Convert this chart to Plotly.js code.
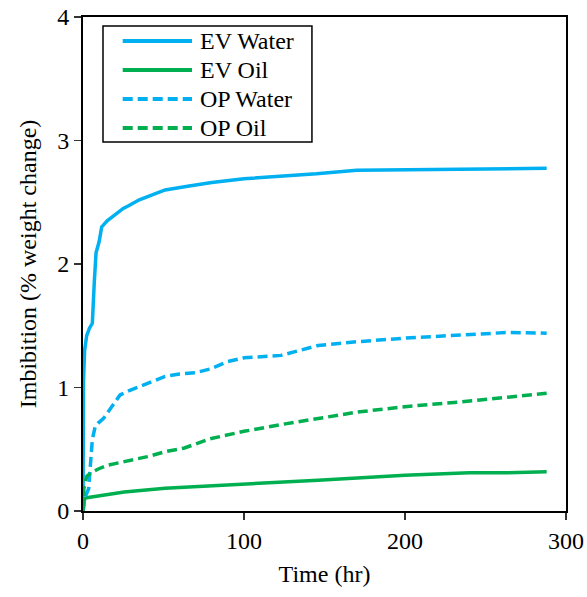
<!DOCTYPE html>
<html>
<head>
<meta charset="utf-8">
<script src="https://cdn.plot.ly/plotly-3.0.1.min.js"></script>
<style>html,body{margin:0;padding:0;background:#fff;}#chart{width:587px;height:597px;}</style>
</head>
<body>
<div id="chart"></div>
<script>
const evWaterT = [0, 0.3, 1, 2.3, 4, 5.8, 7, 8.1, 10, 11.6, 15, 20, 25, 28, 35, 45, 51, 65, 80, 100, 123, 145, 170, 200, 240, 288];
const evWaterV = [0, 1.05, 1.3, 1.42, 1.48, 1.52, 1.85, 2.09, 2.18, 2.30, 2.35, 2.40, 2.45, 2.47, 2.52, 2.57, 2.60, 2.63, 2.66, 2.69, 2.71, 2.73, 2.76, 2.765, 2.77, 2.775];

const evOilT = [0, 1, 2.3, 9.3, 25.6, 51, 100, 146, 200, 240, 263, 288];
const evOilV = [0, 0.1, 0.108, 0.12, 0.154, 0.185, 0.215, 0.25, 0.29, 0.31, 0.31, 0.317];

const opWaterT = [0, 1.2, 3.5, 5.8, 7.5, 9.3, 12.8, 18, 23, 28, 40, 51, 60, 70, 79, 90, 100, 123, 146, 170, 200, 240, 263, 288];
const opWaterV = [0, 0.11, 0.18, 0.58, 0.68, 0.71, 0.75, 0.85, 0.94, 0.97, 1.03, 1.09, 1.11, 1.12, 1.15, 1.21, 1.24, 1.26, 1.34, 1.37, 1.40, 1.43, 1.445, 1.44];

const opOilT = [0, 0.5, 2.3, 5, 9.5, 15, 25.6, 40, 51, 63, 79, 100, 123, 146, 170, 200, 240, 288];
const opOilV = [0, 0.18, 0.28, 0.31, 0.34, 0.37, 0.40, 0.44, 0.48, 0.51, 0.585, 0.645, 0.70, 0.75, 0.80, 0.845, 0.89, 0.954];

const seriesNames = ['EV Water', 'EV Oil', 'OP Water', 'OP Oil'];
const xTicks = [0, 100, 200, 300];
const yTicks = [0, 1, 2, 3, 4];

const blue = '#00B0F0', green = '#00B050';
const dashPat = '10px,5px';
const font = '"Liberation Serif", "Times New Roman", serif';
const FS = 24;
const LW = 3.5;

const lineStyles = [
  {color: blue, width: LW},
  {color: green, width: LW},
  {color: blue, width: LW, dash: dashPat},
  {color: green, width: LW, dash: dashPat}
];
const xs = [evWaterT, evOilT, opWaterT, opOilT];
const ys = [evWaterV, evOilV, opWaterV, opOilV];

const traces = seriesNames.map((n, i) => ({
  x: xs[i], y: ys[i], name: n, mode: 'lines', line: lineStyles[i], showlegend: false
}));

// Legend drawn in paper coordinates (Excel-style long line samples)
const legBox = {x0: 0.0414, x1: 0.474, y0: 0.747, y1: 0.982};
const legRowY = [0.9514, 0.8927, 0.834, 0.7753];
const legLineX = [0.0822, 0.2257];
const legTextX = 0.2375;

const shapes = [{
  type: 'rect', xref: 'paper', yref: 'paper',
  x0: legBox.x0, x1: legBox.x1, y0: legBox.y0, y1: legBox.y1,
  line: {color: '#000', width: 1.5}, fillcolor: '#fff', layer: 'above'
}];
const annotations = [];
seriesNames.forEach((n, i) => {
  shapes.push({
    type: 'line', xref: 'paper', yref: 'paper',
    x0: legLineX[0], x1: legLineX[1], y0: legRowY[i], y1: legRowY[i],
    line: Object.assign({}, lineStyles[i], {width: 4}), layer: 'above'
  });
  annotations.push({
    xref: 'paper', yref: 'paper', x: legTextX, y: legRowY[i],
    xanchor: 'left', yanchor: 'middle', text: n, showarrow: false,
    font: {family: font, size: FS, color: '#000'}
  });
});

const layout = {
  width: 587, height: 597,
  margin: {l: 83, r: 21, t: 17, b: 86},
  paper_bgcolor: '#fff', plot_bgcolor: '#fff',
  font: {family: font, color: '#000', size: FS},
  showlegend: false,
  shapes: shapes,
  annotations: annotations,
  xaxis: {
    range: [0, 300], tickvals: xTicks, ticktext: xTicks.map(String),
    showgrid: false, zeroline: false,
    showline: true, linecolor: '#000', linewidth: 2, mirror: true,
    ticks: 'outside', ticklen: 7, tickwidth: 1.5, tickcolor: '#333',
    tickfont: {family: font, size: FS, color: '#000'},
    title: {text: 'Time (hr)', font: {family: font, size: FS, color: '#000'}, standoff: 12}
  },
  yaxis: {
    range: [0, 4], tickvals: yTicks, ticktext: yTicks.map(String),
    showgrid: false, zeroline: false,
    showline: true, linecolor: '#000', linewidth: 2, mirror: true,
    ticks: 'outside', ticklen: 7, tickwidth: 1.5, tickcolor: '#333',
    tickfont: {family: font, size: FS, color: '#000'},
    title: {text: 'Imbibition (% weight change)', font: {family: font, size: FS, color: '#000'}, standoff: 14}
  }
};

Plotly.newPlot('chart', traces, layout, {staticPlot: true, displayModeBar: false});
</script>
</body>
</html>
